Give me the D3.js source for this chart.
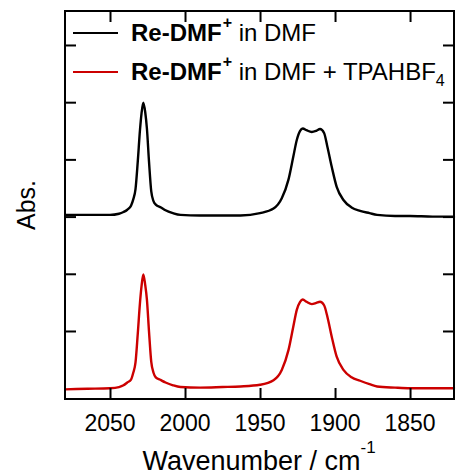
<!DOCTYPE html>
<html>
<head>
<meta charset="utf-8">
<script src="https://cdn.jsdelivr.net/npm/d3@7"></script>
<style>
  html, body { margin: 0; padding: 0; background: #fff; }
  svg { display: block; }
  text { font-family: "Liberation Sans", Arial, Helvetica, sans-serif; fill: #000; }
</style>
</head>
<body>
<svg id="chart" width="456" height="475"></svg>
<script>
// ---- data ----
const wavenumbers = [2080, 2065, 2050, 2044, 2041, 2038.5, 2036, 2034.5, 2033, 2031.5, 2030, 2029, 2027.8, 2026.5, 2025.4, 2024, 2022.5, 2021, 2019.5, 2016, 2013, 2008, 2003, 1990, 1975, 1963, 1950, 1941, 1935.5, 1931, 1927.8, 1925.5, 1923.3, 1921.5, 1919, 1915.5, 1912.5, 1910, 1907.3, 1905.1, 1902.2, 1898.9, 1894.4, 1889, 1883.3, 1877, 1872, 1860, 1850, 1835, 1820];
const absDMF = [3.03, 3.03, 3.03, 3.05, 3.08, 3.12, 3.19, 3.30, 3.48, 3.96, 4.52, 4.80, 4.99, 4.82, 4.54, 3.96, 3.44, 3.27, 3.21, 3.16, 3.11, 3.06, 3.03, 3.02, 3.02, 3.02, 3.06, 3.14, 3.32, 3.65, 4.05, 4.34, 4.50, 4.54, 4.51, 4.48, 4.50, 4.53, 4.46, 4.22, 3.87, 3.52, 3.29, 3.16, 3.10, 3.06, 3.03, 3.01, 3.01, 3.00, 3.00];
const absTPA = [-0.02, -0.01, 0.00, 0.02, 0.05, 0.10, 0.15, 0.27, 0.45, 0.95, 1.50, 1.78, 1.99, 1.80, 1.55, 0.99, 0.46, 0.27, 0.19, 0.14, 0.10, 0.05, 0.02, 0.01, 0.02, 0.03, 0.06, 0.14, 0.32, 0.67, 1.08, 1.37, 1.51, 1.55, 1.51, 1.47, 1.49, 1.51, 1.45, 1.25, 0.90, 0.55, 0.32, 0.19, 0.13, 0.07, 0.03, 0.01, 0.00, 0.00, 0.00];
const xTicks = [2050, 2000, 1950, 1900, 1850];
const yTicks = [1, 2, 3, 4, 5, 6];
const seriesColors = ["#000000", "#cc0000"];

// ---- layout ----
const mLeft = 65, mRight = 454, mTop = 11, mBottom = 399;
const svg = d3.select("#chart");

const x = d3.scaleLinear().domain([2080, 1820.7]).range([mLeft, mRight]);
const y = d3.scaleLinear().domain([-0.189, 6.594]).range([mBottom, mTop]);

const line = d3.line().curve(d3.curveMonotoneX);
const mk = vals => wavenumbers.map((w, i) => [x(w), y(vals[i])]);

const g = svg.append("g");
g.append("path").attr("d", line(mk(absTPA)))
  .attr("fill", "none").attr("stroke", seriesColors[1]).attr("stroke-width", 2.4).attr("stroke-linejoin", "round");
g.append("path").attr("d", line(mk(absDMF)))
  .attr("fill", "none").attr("stroke", seriesColors[0]).attr("stroke-width", 2.4).attr("stroke-linejoin", "round");

// axes with inner ticks on all four sides
const tl = 11;
svg.append("g").attr("transform", `translate(0,${mBottom})`)
  .call(d3.axisBottom(x).tickValues(xTicks).tickSize(-tl).tickFormat(""))
  .call(a => a.select(".domain").remove());
svg.append("g").attr("transform", `translate(0,${mTop})`)
  .call(d3.axisTop(x).tickValues(xTicks).tickSize(-tl).tickFormat(""))
  .call(a => a.select(".domain").remove());
svg.append("g").attr("transform", `translate(${mLeft},0)`)
  .call(d3.axisLeft(y).tickValues(yTicks).tickSize(-tl).tickFormat(""))
  .call(a => a.select(".domain").remove());
svg.append("g").attr("transform", `translate(${mRight},0)`)
  .call(d3.axisRight(y).tickValues(yTicks).tickSize(-tl).tickFormat(""))
  .call(a => a.select(".domain").remove());
svg.selectAll(".tick line").attr("stroke", "#000").attr("stroke-width", 2);

svg.append("rect").attr("x", mLeft).attr("y", mTop)
  .attr("width", mRight - mLeft).attr("height", mBottom - mTop)
  .attr("fill", "none").attr("stroke", "#000").attr("stroke-width", 2);

// x tick labels
svg.append("g").selectAll("text").data(xTicks).join("text")
  .attr("x", d => x(d)).attr("y", 431)
  .attr("text-anchor", "middle").attr("font-size", 23)
  .text(d => d);

// axis titles
const xt = svg.append("text").attr("x", 259).attr("y", 470)
  .attr("text-anchor", "middle").attr("font-size", 27);
xt.append("tspan").text("Wavenumber / cm");
xt.append("tspan").attr("font-size", 17).attr("dy", -17).text("-1");

svg.append("text").attr("transform", "translate(35,205) rotate(-90)")
  .attr("text-anchor", "middle").attr("font-size", 25).text("Abs.");

// legend
const legRows = [{y: 33, c: seriesColors[0], extra: false}, {y: 72, c: seriesColors[1], extra: true}];
legRows.forEach(r => {
  svg.append("line").attr("x1", 73).attr("x2", 118).attr("y1", r.y).attr("y2", r.y)
    .attr("stroke", r.c).attr("stroke-width", 2);
  const t = svg.append("text").attr("x", 131).attr("y", r.y + 8).attr("font-size", 24);
  t.append("tspan").attr("font-weight", "bold").text("Re-DMF");
  t.append("tspan").attr("font-weight", "bold").attr("font-size", 16).attr("dx", 1).attr("dy", -13).text("+");
  t.append("tspan").attr("dy", 13).text(" in DMF");
  if (r.extra) {
    t.append("tspan").text(" + TPAHBF");
    t.append("tspan").attr("font-size", 16).attr("dy", 6).text("4");
  }
});
</script>
</body>
</html>
